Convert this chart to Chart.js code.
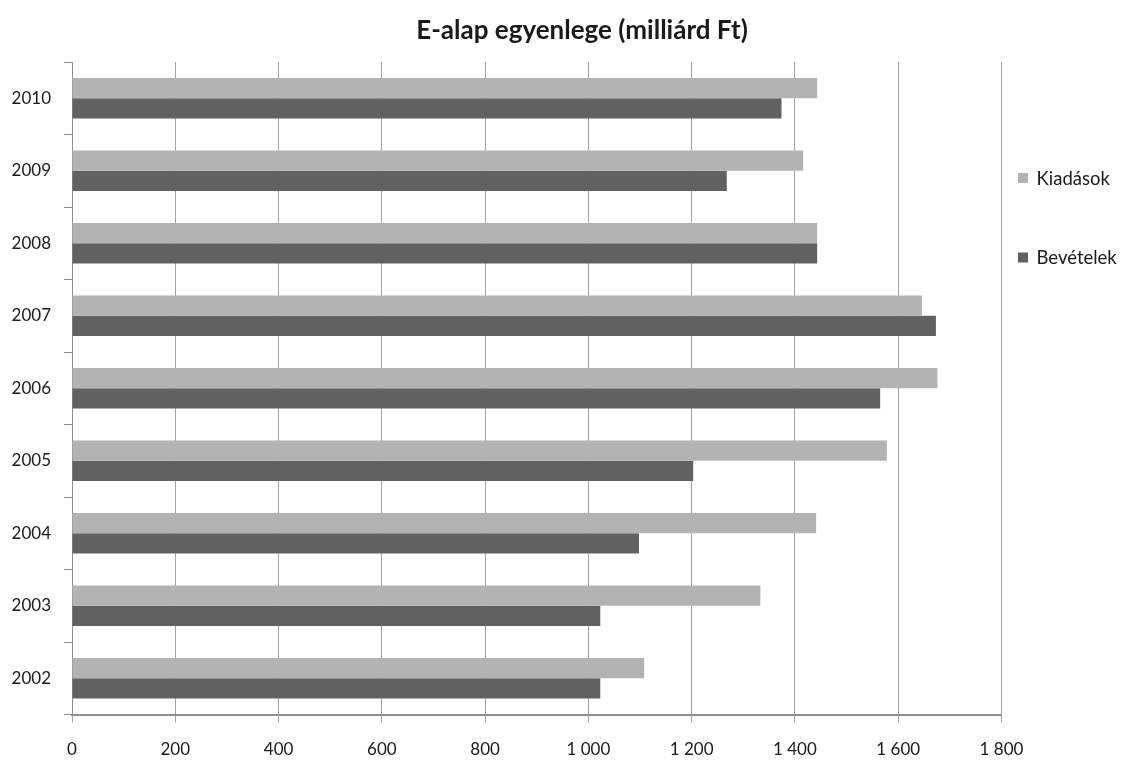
<!DOCTYPE html>
<html>
<head>
<meta charset="utf-8">
<script src="https://cdn.jsdelivr.net/npm/chart.js@4/dist/chart.umd.min.js"></script>
<style>
  html, body { margin: 0; padding: 0; background: #ffffff; }
  #wrap { width: 1124px; height: 760px; position: relative; }
</style>
</head>
<body>
<div id="wrap"><canvas id="chart" width="1124" height="760"></canvas></div>
<script>
// Years, top to bottom
const years = ['2010', '2009', '2008', '2007', '2006', '2005', '2004', '2003', '2002'];
// Expenditure (milliárd Ft)
const kiadasok = [1443, 1416, 1443, 1646, 1676, 1578, 1441, 1333, 1108];
// Revenue (milliárd Ft)
const bevetelek = [1374, 1268, 1443, 1673, 1565, 1203, 1098, 1023, 1023];
// Value axis labels
const xTickLabels = ['0', '200', '400', '600', '800', '1 000', '1 200', '1 400', '1 600', '1 800'];

const chartTitle = 'E-alap egyenlege (milliárd Ft)';
const seriesNames = ['Kiadások', 'Bevételek'];
const seriesColors = ['#b3b3b3', '#616161'];
const FONT = 'Lato, "Open Sans", sans-serif';

// Title above the plot and a legend to its right, one entry per dataset
const decorations = {
  id: 'decorations',
  afterDraw(chart) {
    const { ctx, chartArea } = chart;
    ctx.save();
    ctx.fillStyle = '#1a1a1a';
    ctx.font = 'bold 26px ' + FONT;
    ctx.textAlign = 'center';
    ctx.textBaseline = 'alphabetic';
    ctx.fillText(chartTitle, 582, chartArea.top - 23);

    const offsets = [116, 195.5];
    ctx.font = '18.5px ' + FONT;
    ctx.textBaseline = 'middle';
    ctx.textAlign = 'left';
    chart.data.datasets.forEach((ds, i) => {
      const y = chartArea.top + offsets[i];
      ctx.fillStyle = ds.backgroundColor;
      ctx.fillRect(chartArea.right + 16.5, y - 5, 10, 10);
      ctx.fillStyle = '#1a1a1a';
      ctx.fillText(ds.label, chartArea.right + 35, y + 1);
    });
    ctx.restore();
  }
};

function draw() {
  new Chart(document.getElementById('chart'), {
    type: 'bar',
    data: {
      labels: years,
      datasets: [
        { label: seriesNames[0], data: kiadasok, backgroundColor: seriesColors[0] },
        { label: seriesNames[1], data: bevetelek, backgroundColor: seriesColors[1] }
      ]
    },
    options: {
      indexAxis: 'y',
      responsive: false,
      animation: false,
      categoryPercentage: 0.56,
      barPercentage: 1.0,
      layout: { padding: { left: 0, right: 122.5, top: 62, bottom: 0 } },
      plugins: {
        legend: { display: false },
        tooltip: { enabled: false },
        title: { display: false }
      },
      scales: {
        x: {
          min: 0,
          max: 1800,
          afterFit(scale) { scale.height = 45.5; },
          ticks: {
            stepSize: 200,
            color: '#1a1a1a',
            font: { family: FONT, size: 17 },
            padding: 17,
            maxRotation: 0,
            callback: (v, i) => xTickLabels[i]
          },
          grid: { color: '#a3a3a3', lineWidth: 1, tickLength: 8, drawTicks: true },
          border: { display: true, color: '#8f8f8f', width: 2 }
        },
        y: {
          afterFit(scale) { scale.width = 72; },
          ticks: {
            color: '#1a1a1a',
            font: { family: FONT, size: 17 },
            padding: 13
          },
          grid: { drawOnChartArea: false, drawTicks: true, tickLength: 8, color: '#8f8f8f', offset: true },
          border: { display: true, color: '#8f8f8f', width: 1 }
        }
      }
    },
    plugins: [decorations]
  });
}

Promise.all([
  document.fonts.load('17px Lato'),
  document.fonts.load('bold 26px Lato')
]).then(draw, draw);
</script>
</body>
</html>
